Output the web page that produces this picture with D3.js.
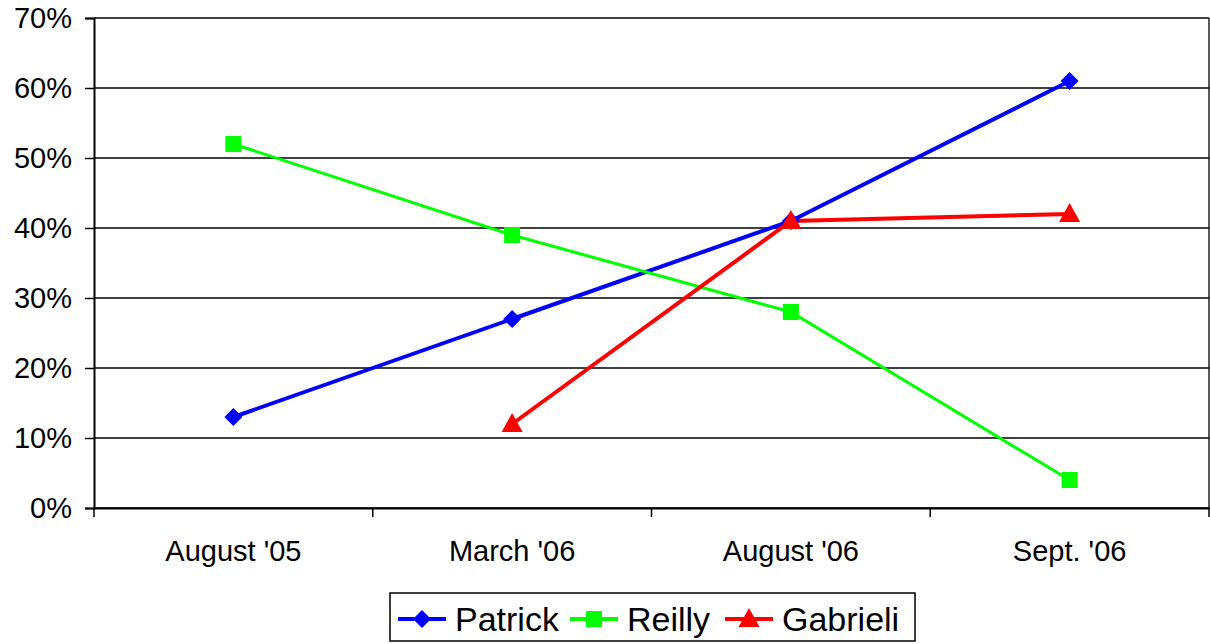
<!DOCTYPE html>
<html>
<head>
<meta charset="utf-8">
<script src="https://cdn.jsdelivr.net/npm/d3@7"></script>
<style>
  body { margin: 0; background: #fff; }
  svg { display: block; font-family: "Liberation Sans", Arial, sans-serif; }
</style>
</head>
<body>
<svg id="chart" width="1210" height="644"></svg>
<script>
var categories = ["August '05", "March '06", "August '06", "Sept. '06"];
var patrick = [13, 27, 41, 61];
var reilly = [52, 39, 28, 4];
var gabrieli = [null, 12, 41, 42];
var yTicks = [0, 10, 20, 30, 40, 50, 60, 70];

var series = [
    {name: "Patrick", values: patrick, color: "#0000ff", marker: "diamond", width: 4},
    {name: "Reilly", values: reilly, color: "#00ff00", marker: "square", width: 3},
    {name: "Gabrieli", values: gabrieli, color: "#ff0000", marker: "triangle", width: 4}
];

var plotLeft = 94, plotRight = 1209, plotTop = 18, plotBottom = 508;
var svg = d3.select("#chart");

var x = d3.scaleBand().domain(categories).range([plotLeft, plotRight]);
var y = d3.scaleLinear().domain([0, 70]).range([plotBottom, plotTop]);

// gridlines
svg.append("g").selectAll("line")
    .data(yTicks)
    .enter().append("line")
    .attr("x1", plotLeft).attr("x2", plotRight)
    .attr("y1", function(d) { return y(d); })
    .attr("y2", function(d) { return y(d); })
    .attr("stroke", "#000").attr("stroke-width", 1.3);

// right border
svg.append("line")
    .attr("x1", plotRight).attr("x2", plotRight).attr("y1", plotTop).attr("y2", plotBottom)
    .attr("stroke", "#000").attr("stroke-width", 1.3);

// y axis
var yAxis = svg.append("g")
    .attr("transform", "translate(" + plotLeft + ",0)")
    .call(d3.axisLeft(y).tickValues(yTicks).tickSize(9).tickPadding(13)
        .tickFormat(function(d) { return d + "%"; }));
yAxis.select(".domain").attr("stroke-width", 2);
yAxis.selectAll(".tick line").attr("stroke-width", 1.5);
yAxis.selectAll("text").attr("font-size", 29).attr("fill", "#000")
    .attr("font-family", "Liberation Sans, Arial, sans-serif");

// x axis
var xAxis = svg.append("g")
    .attr("transform", "translate(0," + plotBottom + ")")
    .call(d3.axisBottom(x).tickSize(0).tickPadding(32));
xAxis.select(".domain").attr("stroke-width", 2);
xAxis.selectAll("text").attr("font-size", 29).attr("fill", "#000")
    .attr("font-family", "Liberation Sans, Arial, sans-serif");
svg.append("g").selectAll("line")
    .data(d3.range(categories.length + 1))
    .enter().append("line")
    .attr("x1", function(i) { return plotLeft + i * x.step(); })
    .attr("x2", function(i) { return plotLeft + i * x.step(); })
    .attr("y1", plotBottom).attr("y2", plotBottom + 9)
    .attr("stroke", "#000").attr("stroke-width", 1.5);

function markerPath(type, s) {
    if (type === "diamond") return "M0," + (-s) + "L" + s + ",0L0," + s + "L" + (-s) + ",0Z";
    if (type === "square") return "M" + (-s) + "," + (-s) + "h" + (2 * s) + "v" + (2 * s) + "h" + (-2 * s) + "Z";
    return "M0," + (-s * 1.1) + "L" + (s * 1.05) + "," + (s * 0.8) + "L" + (-s * 1.05) + "," + (s * 0.8) + "Z";
}
var markerSize = {diamond: 9, square: 8, triangle: 10};

var line = d3.line()
    .defined(function(d) { return d.v !== null; })
    .x(function(d) { return x(d.c) + x.bandwidth() / 2; })
    .y(function(d) { return y(d.v); });

series.forEach(function(s) {
    var pts = s.values.map(function(v, i) { return {c: categories[i], v: v}; });
    svg.append("path")
        .datum(pts)
        .attr("d", line)
        .attr("fill", "none")
        .attr("stroke", s.color)
        .attr("stroke-width", s.width);
});
series.forEach(function(s) {
    var pts = s.values.map(function(v, i) { return {c: categories[i], v: v}; })
        .filter(function(d) { return d.v !== null; });
    svg.append("g").selectAll("path")
        .data(pts)
        .enter().append("path")
        .attr("transform", function(d) {
            return "translate(" + (x(d.c) + x.bandwidth() / 2) + "," + y(d.v) + ")";
        })
        .attr("d", markerPath(s.marker, markerSize[s.marker]))
        .attr("fill", s.color);
});

// legend
var legend = svg.append("g");
legend.append("rect")
    .attr("x", 390).attr("y", 593).attr("width", 525).attr("height", 48)
    .attr("fill", "#fff").attr("stroke", "#000").attr("stroke-width", 1.5);
var legendX = [398, 570, 725];
series.forEach(function(s, i) {
    var g = legend.append("g").attr("transform", "translate(" + legendX[i] + ",619)");
    g.append("line").attr("x1", 0).attr("x2", 48).attr("y1", 0).attr("y2", 0)
        .attr("stroke", s.color).attr("stroke-width", 4);
    g.append("path").attr("transform", "translate(24,0)")
        .attr("d", markerPath(s.marker, markerSize[s.marker]))
        .attr("fill", s.color);
    g.append("text").attr("x", 57).attr("y", 12)
        .attr("font-size", 34).attr("fill", "#000")
        .text(s.name);
});
</script>
</body>
</html>
